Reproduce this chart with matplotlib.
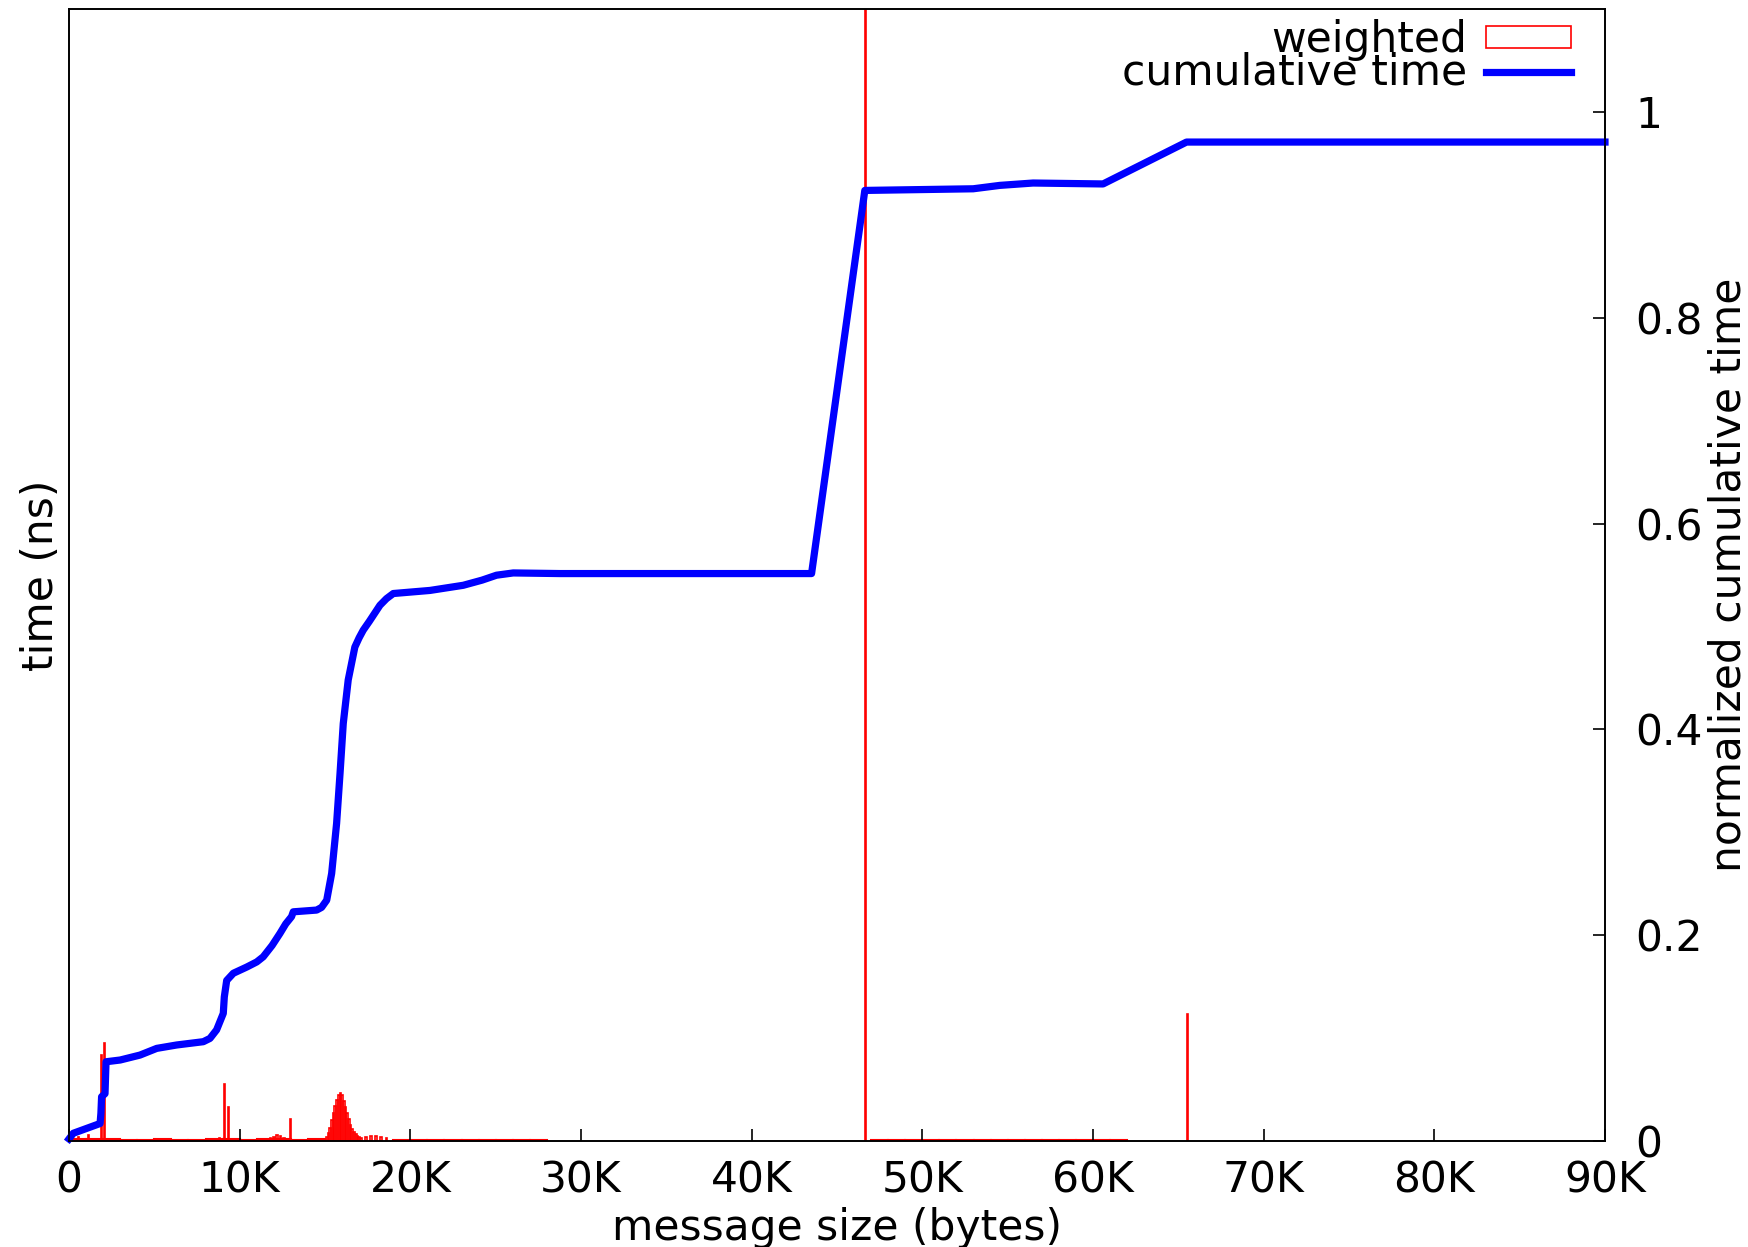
import matplotlib
matplotlib.use("Agg")
import matplotlib.pyplot as plt
from matplotlib.ticker import FixedLocator, FuncFormatter

plt.rcParams['font.family'] = ['DejaVu Sans']

# ---------------- data (x in K bytes) ----------------
cum_x = [0.0, 0.25, 1.82, 1.87, 1.91, 2.11, 2.17, 3.0, 4.16, 5.14, 6.31, 7.87,
         8.26, 8.65, 9.04, 9.10, 9.24, 9.63, 10.41, 11.0, 11.38, 11.9, 12.36,
         12.7, 13.04, 13.14, 14.51, 14.8, 15.1, 15.39, 15.68, 15.88, 16.07,
         16.36, 16.75, 17.0, 17.24, 17.6, 18.22, 18.6, 19.0, 21.15, 23.1, 24.2,
         25.05, 26.03, 28.76, 43.51, 46.63, 52.98, 54.54, 56.49, 60.59, 65.48,
         90.0]
cum_y = [0.002, 0.0075, 0.017, 0.027, 0.043, 0.046, 0.077, 0.0787, 0.0835,
         0.090, 0.0933, 0.0965, 0.0997, 0.108, 0.124, 0.140, 0.156, 0.163,
         0.169, 0.174, 0.179, 0.190, 0.2017, 0.211, 0.218, 0.2227, 0.2244,
         0.227, 0.234, 0.26, 0.3086, 0.357, 0.4057, 0.448, 0.480, 0.489,
         0.4964, 0.505, 0.5206, 0.527, 0.532, 0.535, 0.540, 0.545, 0.5498,
         0.552, 0.5514, 0.5514, 0.9237, 0.9253, 0.9286, 0.9309, 0.930,
         0.9707, 0.9707]

# weighted histogram: isolated spikes
spike_x = [0.55, 1.13, 1.89, 2.09, 8.8, 9.12, 9.33, 13.0, 46.69, 65.54]
spike_h = [0.004, 0.006, 0.0835, 0.0956, 0.003, 0.055, 0.033, 0.021, 1.5, 0.123]

# weighted histogram: dense peak around 16K and small bumps
peak_x = [11.8, 12.0, 12.2, 12.4, 12.6,
          15.0, 15.1, 15.2, 15.3, 15.4, 15.5, 15.6, 15.7, 15.8, 15.9, 16.0,
          16.1, 16.2, 16.3, 16.4, 16.5, 16.6, 16.7, 16.8, 16.9, 17.0, 17.1,
          17.4, 17.7, 18.0, 18.3, 18.6]
peak_h = [0.003, 0.004, 0.006, 0.005, 0.003,
          0.002, 0.004, 0.008, 0.013, 0.020, 0.027, 0.034, 0.040, 0.045, 0.047,
          0.045, 0.039, 0.033, 0.027, 0.021, 0.016, 0.012, 0.009, 0.007, 0.005,
          0.004, 0.003,
          0.004, 0.005, 0.005, 0.004, 0.003]

# weighted histogram: low-level background
noise_x = [0.5, 1.5, 2.5, 3.5, 4.5, 5.5, 6.5, 7.5, 8.5, 9.5, 10.5, 11.5, 12.5,
           13.5, 14.5, 19.5, 20.5, 21.5, 22.5, 23.5, 24.5, 25.5, 26.5, 27.5,
           47.5, 48.5, 49.5, 50.5, 51.5, 52.5, 53.5, 54.5, 55.5, 56.5, 57.5,
           58.5, 59.5, 60.5, 61.5]
noise_h = [0.002, 0.002, 0.002, 0.001, 0.001, 0.002, 0.001, 0.001, 0.002,
           0.002, 0.001, 0.002, 0.002, 0.001, 0.002, 0.001, 0.001, 0.001,
           0.001, 0.001, 0.001, 0.001, 0.0008, 0.0008,
           0.0008, 0.0008, 0.001, 0.0008, 0.0008, 0.001, 0.0008, 0.0008, 0.001,
           0.0008, 0.0008, 0.001, 0.0008, 0.0008, 0.0008]

xticks_k = [0, 10, 20, 30, 40, 50, 60, 70, 80, 90]
yticks_r = [0, 0.2, 0.4, 0.6, 0.8, 1.0]

FS = 30.5

fig = plt.figure(figsize=(17.49, 12.47), dpi=100)
ax = fig.add_axes([69/1749, 1 - 1141/1247, (1605-69)/1749, (1141-9)/1247])
ax2 = ax.twinx()

# histogram (weighted)
ax.bar(noise_x, noise_h, width=1.0, fill=False, edgecolor='red', linewidth=1.5)
ax.bar(peak_x, peak_h, width=0.1, fill=False, edgecolor='red', linewidth=1.2)
ax.bar(spike_x, spike_h, width=0.06, fill=False, edgecolor='red', linewidth=1.2,
       label='weighted')

# cumulative
ax2.plot(cum_x, cum_y, color='blue', linewidth=5.2, solid_joinstyle='round',
         label='cumulative time', clip_on=False)

for a in (ax, ax2):
    a.set_xlim(0, 90)
    a.set_ylim(0, 1.1)
    for s in a.spines.values():
        s.set_linewidth(1.2)
        s.set_color('black')

ax.xaxis.set_major_locator(FixedLocator(xticks_k))
ax.xaxis.set_major_formatter(FuncFormatter(lambda v, p: '0' if v == 0 else '%dK' % v))
ax.tick_params(axis='x', direction='in', length=9, width=1.2, labelsize=FS, pad=13,
               top=False, bottom=True)
ax.tick_params(axis='y', left=False, right=False, labelleft=False)
ax.set_xlabel('message size (bytes)', fontsize=FS, labelpad=4)
ax.set_ylabel('time (ns)', fontsize=FS, labelpad=5)

ax2.yaxis.set_major_locator(FixedLocator(yticks_r))
ax2.yaxis.set_major_formatter(FuncFormatter(lambda v, p: '%g' % v))
ax2.tick_params(axis='y', direction='in', length=9, width=1.2, labelsize=FS, pad=22)
ax2.set_ylabel('normalized cumulative time', fontsize=FS, labelpad=3)

h1, l1 = ax.get_legend_handles_labels()
h2, l2 = ax2.get_legend_handles_labels()
leg = ax2.legend(h1 + h2, l1 + l2, loc='upper right', frameon=False,
                 fontsize=FS, markerfirst=False, handlelength=2.0,
                 handleheight=0.45, labelspacing=-0.22, handletextpad=0.45,
                 borderaxespad=0.0, borderpad=0.0,
                 bbox_to_anchor=(0.978, 0.991))

fig.savefig('out.png', dpi=100)
